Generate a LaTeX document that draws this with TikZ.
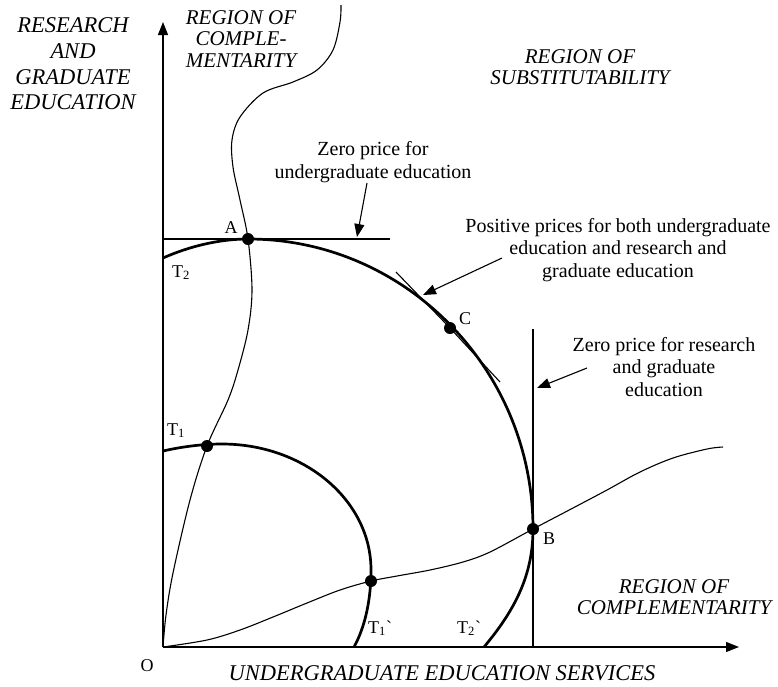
\documentclass[tikz,border=0pt]{standalone}
\usepackage{fontspec}
\setmainfont{Liberation Serif}
\usetikzlibrary{arrows.meta}

\begin{document}
\begin{tikzpicture}[x=1pt,y=-1pt,>={Triangle[length=13pt,width=10pt]},
    frontier/.style={line width=2.7pt},
    thin path/.style={line width=1.1pt},
    note/.style={font=\fontsize{20}{22.5}\selectfont,align=center,inner sep=0pt},
    region/.style={font=\fontsize{21}{21.5}\selectfont\itshape,align=center,inner sep=0pt},
    axislabel/.style={font=\fontsize{22.5}{25.7}\selectfont\itshape,align=center,inner sep=0pt},
    ptlabel/.style={font=\fontsize{18}{20}\selectfont,inner sep=0pt}]
  \useasboundingbox (0,0) rectangle (778,686);
  % axes
  \coordinate (O) at (163,647);
  \coordinate (ytop) at (163,22);
  \coordinate (xend) at (739,647);
  \draw[line width=1.3pt,->] (O) -- (ytop);
  \draw[line width=1.3pt,->] (O) -- (xend);
  \node[ptlabel] (olab) at (147,666) {O};
  \node[axislabel] (ylab) at (73,64) {RESEARCH\\AND\\GRADUATE\\EDUCATION};
  \node[axislabel] (xlab) at (442,673) {UNDERGRADUATE EDUCATION SERVICES};
  % points
  \coordinate (A) at (248,239);
  \coordinate (B) at (533,529);
  \coordinate (C) at (450,328);
  \coordinate (P1) at (207,446);
  \coordinate (Q1) at (371,581);
  % price lines
  \coordinate (hl) at (163,239);
  \coordinate (hr) at (390,239);
  \draw[thin path] (hl) -- (hr);
  \coordinate (vt) at (533,329);
  \coordinate (vb) at (533,647);
  \draw[thin path] (vt) -- (vb);
  \coordinate (tg1) at (396,272);
  \coordinate (tg2) at (500,382);
  \draw[thin path] (tg1) -- (C) -- (tg2);
  % transformation curves
  \draw[frontier] (163,258) .. controls (190,246) and (220,239) .. (A)
    .. controls (405,239) and (533,369) .. (B)
    .. controls (533,575) and (515,610) .. (484,647);
  \draw[frontier] (163,451) .. controls (185,446) and (205,444) .. (222,444)
    .. controls (304,444) and (371,500) .. (371,570)
    .. controls (371,600) and (365,627) .. (354,647);
  % expansion paths
  \draw[thin path] plot[smooth,tension=0.55] coordinates {(163,647) (166,615) (173,573)
    (190,500) (207,446) (228,400) (238,370) (248,330) (252,290) (248,239) (240,200)
    (233,167) (232,140) (240,117) (263,93) (293,82) (317,70) (333,50) (340,22) (341,5)};
  \draw[thin path] plot[smooth,tension=0.55] coordinates {(163,647) (207,640) (240,630)
    (273,617) (307,603) (340,590) (371,581) (397,576) (430,570) (463,562) (490,552)
    (533,529) (573,508) (607,490) (640,472) (673,458) (707,449) (723,447)};
  % dots
  \foreach \p in {A,B,C,P1,Q1}
    \fill (\p) circle (6pt);
  \node[ptlabel] (alab) at (231,228) {A};
  \node[ptlabel] (blab) at (549,539) {B};
  \node[ptlabel] (clab) at (465,319) {C};
  \node[ptlabel,anchor=base west] (t2lab) at (172,277) {T\textsubscript{2}};
  \node[ptlabel,anchor=base west] (t1lab) at (167,435) {T\textsubscript{1}};
  \node[ptlabel,anchor=base west] (t1plab) at (368,633) {T\textsubscript{1}\textasciigrave};
  \node[ptlabel,anchor=base west] (t2plab) at (457,633) {T\textsubscript{2}\textasciigrave};
  % regions
  \node[region] (regtop) at (241,39) {REGION OF\\COMPLE-\\MENTARITY};
  \node[region] (regsub) at (580,67) {REGION OF\\SUBSTITUTABILITY};
  \node[region] (regbot) at (674,597) {REGION OF\\COMPLEMENTARITY};
  % notes with arrows
  \node[note] (zu) at (373,162) {Zero price for\\undergraduate education};
  \coordinate (zus) at (367,183);
  \coordinate (zut) at (357,237);
  \draw[thin path,->] (zus) -- (zut);
  \node[note] (pos) at (618,250) {Positive prices for both undergraduate\\education and research and\\graduate education};
  \coordinate (poss) at (502,258);
  \coordinate (post) at (423,295);
  \draw[thin path,->] (poss) -- (post);
  \node[note] (zr) at (664,367) {Zero price for research\\and graduate\\education};
  \coordinate (zrs) at (587,368);
  \coordinate (zrt) at (537,388);
  \draw[thin path,->] (zrs) -- (zrt);
\end{tikzpicture}
\end{document}
